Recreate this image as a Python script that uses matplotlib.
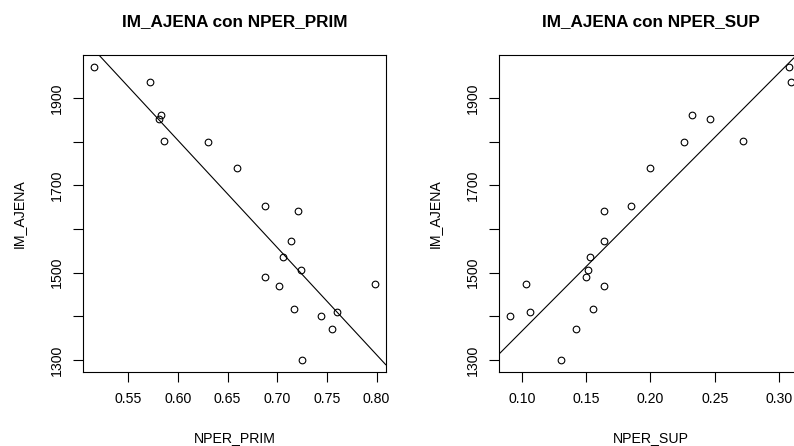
import numpy as np
import matplotlib
matplotlib.use("Agg")
import matplotlib.pyplot as plt

plt.rcParams['font.family'] = ['Liberation Sans', 'DejaVu Sans']

# data (one value per municipality)
im_ajena = [1972, 1938, 1862, 1852, 1802, 1799, 1741, 1652, 1642, 1573,
            1537, 1507, 1491, 1469, 1475, 1417, 1411, 1401, 1370, 1300]
nper_prim = [0.516, 0.572, 0.583, 0.581, 0.586, 0.630, 0.660, 0.688, 0.721, 0.714,
             0.706, 0.724, 0.688, 0.702, 0.798, 0.717, 0.760, 0.744, 0.755, 0.725]
nper_sup = [0.308, 0.309, 0.232, 0.246, 0.272, 0.226, 0.200, 0.185, 0.164, 0.164,
            0.153, 0.151, 0.150, 0.164, 0.103, 0.155, 0.106, 0.091, 0.142, 0.130]

y_ticks = [1300, 1400, 1500, 1600, 1700, 1800, 1900]
y_ticklabels = ["1300", "", "1500", "", "1700", "", "1900"]
prim_ticks = [0.55, 0.60, 0.65, 0.70, 0.75, 0.80]
sup_ticks = [0.10, 0.15, 0.20, 0.25, 0.30]

fig = plt.figure(figsize=(7.94, 4.46), dpi=100)
ax1 = fig.add_axes([0.1049, 0.1666, 0.3809, 0.7101])
ax2 = fig.add_axes([0.6288, 0.1666, 0.3809, 0.7101])


def scatter_panel(ax, x, y, xticks, xlabel, title):
    x = np.array(x)
    y = np.array(y)
    ax.plot(x, y, linestyle='none', marker='o', markersize=4.8,
            markerfacecolor='none', markeredgecolor='black', markeredgewidth=0.8)
    # R-style 4% padding on each side
    xr = x.max() - x.min()
    yr = y.max() - y.min()
    ax.set_xlim(x.min() - 0.04 * xr, x.max() + 0.04 * xr)
    ax.set_ylim(y.min() - 0.04 * yr, y.max() + 0.04 * yr)
    # least squares line, like abline(lm(y ~ x))
    slope, intercept = np.polyfit(x, y, 1)
    ax.axline((0, intercept), slope=slope, color='black', linewidth=0.8)

    ax.set_xticks(xticks)
    ax.set_xticklabels([f"{t:.2f}" for t in xticks])
    ax.set_yticks(y_ticks)
    ax.set_yticklabels(y_ticklabels, rotation=90, va='center')
    ax.tick_params(axis='both', direction='out', length=7, width=0.8,
                   labelsize=10.2, colors='black')
    ax.tick_params(axis='x', pad=7.5)
    ax.tick_params(axis='y', pad=7)
    for s in ax.spines.values():
        s.set_linewidth(0.8)
    ax.set_xlabel(xlabel, fontsize=10.2, labelpad=18)
    ax.set_ylabel("IM_AJENA", fontsize=10.2, labelpad=17)
    ax.set_title(title, fontsize=12.3, fontweight='bold', pad=21)


scatter_panel(ax1, nper_prim, im_ajena, prim_ticks, "NPER_PRIM", "IM_AJENA con NPER_PRIM")
scatter_panel(ax2, nper_sup, im_ajena, sup_ticks, "NPER_SUP", "IM_AJENA con NPER_SUP")

fig.savefig("out.png", dpi=100)
